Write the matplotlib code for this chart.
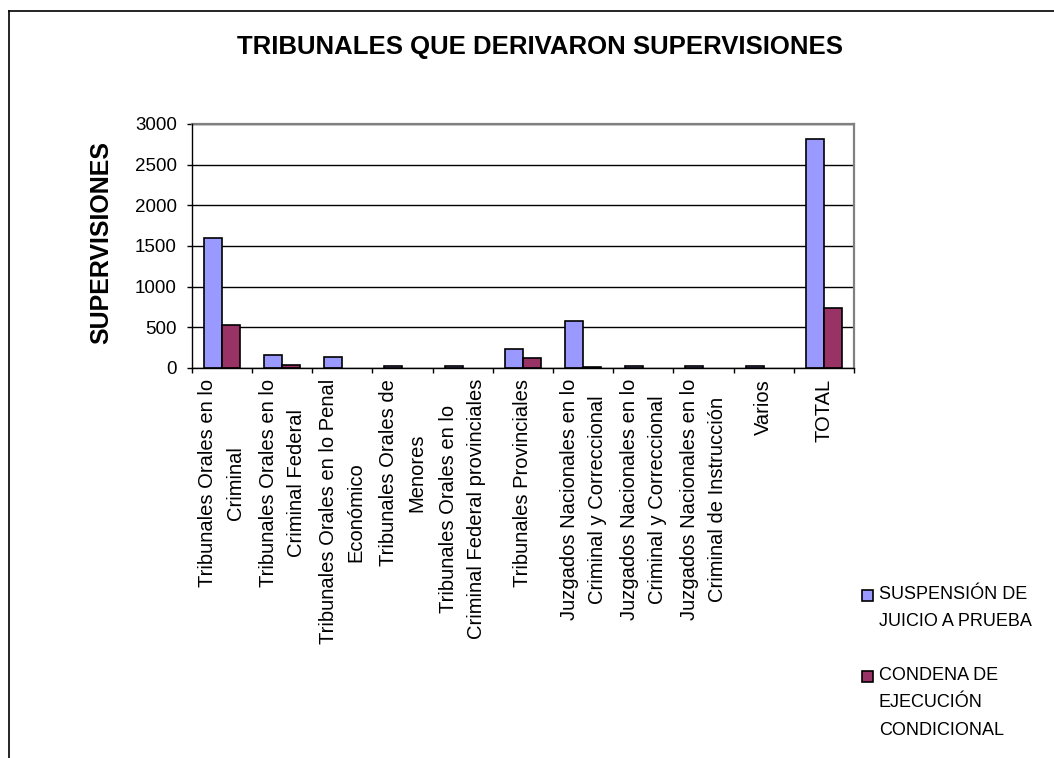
import matplotlib
matplotlib.use("Agg")
import matplotlib.pyplot as plt
from matplotlib.patches import Rectangle
from matplotlib.lines import Line2D
import numpy as np

plt.rcParams['font.family'] = ['Liberation Sans', 'DejaVu Sans']

categories = [
    "Tribunales Orales en lo\nCriminal",
    "Tribunales Orales en lo\nCriminal Federal",
    "Tribunales Orales en lo Penal\nEconómico",
    "Tribunales Orales de\nMenores",
    "Tribunales Orales en lo\nCriminal Federal provinciales",
    "Tribunales Provinciales",
    "Juzgados Nacionales en lo\nCriminal y Correccional",
    "Juzgados Nacionales en lo\nCriminal y Correccional",
    "Juzgados Nacionales en lo\nCriminal de Instrucción",
    "Varios",
    "TOTAL",
]
suspension = [1600, 160, 140, 20, 20, 230, 580, 20, 20, 20, 2810]
condena = [530, 40, 0, 0, 0, 120, 15, 0, 0, 0, 740]
series_labels = ["SUSPENSIÓN DE\nJUICIO A PRUEBA", "CONDENA DE\nEJECUCIÓN\nCONDICIONAL"]
series_colors = ["#9999FF", "#993366"]
yticks = [0, 500, 1000, 1500, 2000, 2500, 3000]
title = "TRIBUNALES QUE DERIVARON SUPERVISIONES"
ylabel = "SUPERVISIONES"

W, H = 1054, 758
fig = plt.figure(figsize=(W / 100, H / 100), dpi=100)
fig.patch.set_facecolor("white")

def fx(px):
    return px / W

def fy(py):
    return 1 - py / H

ax = fig.add_axes([fx(191.7), fy(368), fx(854) - fx(191.7), fy(124) - fy(368)])

x = np.arange(len(categories))
bw = 0.3
for vals, col, off in ((suspension, series_colors[0], -bw / 2), (condena, series_colors[1], bw / 2)):
    bars = ax.bar(x + off, vals, width=bw, color=col, edgecolor="black", linewidth=1.2, zorder=3)
    for b, v in zip(bars, vals):
        if v == 0:
            b.set_linewidth(0)

ax.set_xlim(-0.5, len(categories) - 0.5)
ax.set_ylim(0, 3000)
ax.set_yticks(yticks)
ax.set_yticklabels([str(v) for v in yticks], fontsize=13.5)
ax.tick_params(axis="y", direction="out", length=3.6, width=1, pad=7, color="black")

ax.set_xticks(x)
ax.set_xticklabels(categories, rotation=90, ha="center", va="top", multialignment="center",
                   fontsize=14.5, linespacing=1.6)
ax.tick_params(axis="x", which="major", length=0, pad=8)
ax.set_xticks(np.arange(-0.5, len(categories), 1.0), minor=True)
ax.tick_params(axis="x", which="minor", direction="out", length=3.6, width=1, color="black")

ax.yaxis.grid(True, color="black", linewidth=1.0, zorder=0)
ax.set_axisbelow(True)
ax.spines["left"].set_color("black")
ax.spines["bottom"].set_color("black")
ax.spines["left"].set_linewidth(1.0)
ax.spines["bottom"].set_linewidth(1.0)
ax.spines["top"].set_color("#808080")
ax.spines["right"].set_color("#808080")
ax.spines["top"].set_linewidth(1.6)
ax.spines["right"].set_linewidth(1.6)
ax.spines["left"].set_zorder(4)
ax.spines["bottom"].set_zorder(4)

fig.text(fx(540), fy(47), title, ha="center", va="center", fontsize=18.5, fontweight="bold")
fig.text(fx(101), fy(243), ylabel, ha="center", va="center", rotation=90, fontsize=18, fontweight="bold")

# legend (manual)
leg_rows = [595, 676]
for lab, col, yrow in zip(series_labels, series_colors, leg_rows):
    fig.patches.append(Rectangle((fx(862), fy(yrow + 5.5)), fx(11), 11 / H, facecolor=col,
                                 edgecolor="black", linewidth=1.2, transform=fig.transFigure))
    fig.text(fx(879), fy(yrow - 9), lab, ha="left", va="top", fontsize=13, linespacing=1.8)

# outer frame
fig.lines.append(Line2D([fx(8.5), fx(8.5)], [0, fy(10.5)], color="black", linewidth=1.2, transform=fig.transFigure))
fig.lines.append(Line2D([fx(8.5), 1], [fy(10.5), fy(10.5)], color="black", linewidth=1.2, transform=fig.transFigure))

fig.savefig("out.png", dpi=100, facecolor="white")
